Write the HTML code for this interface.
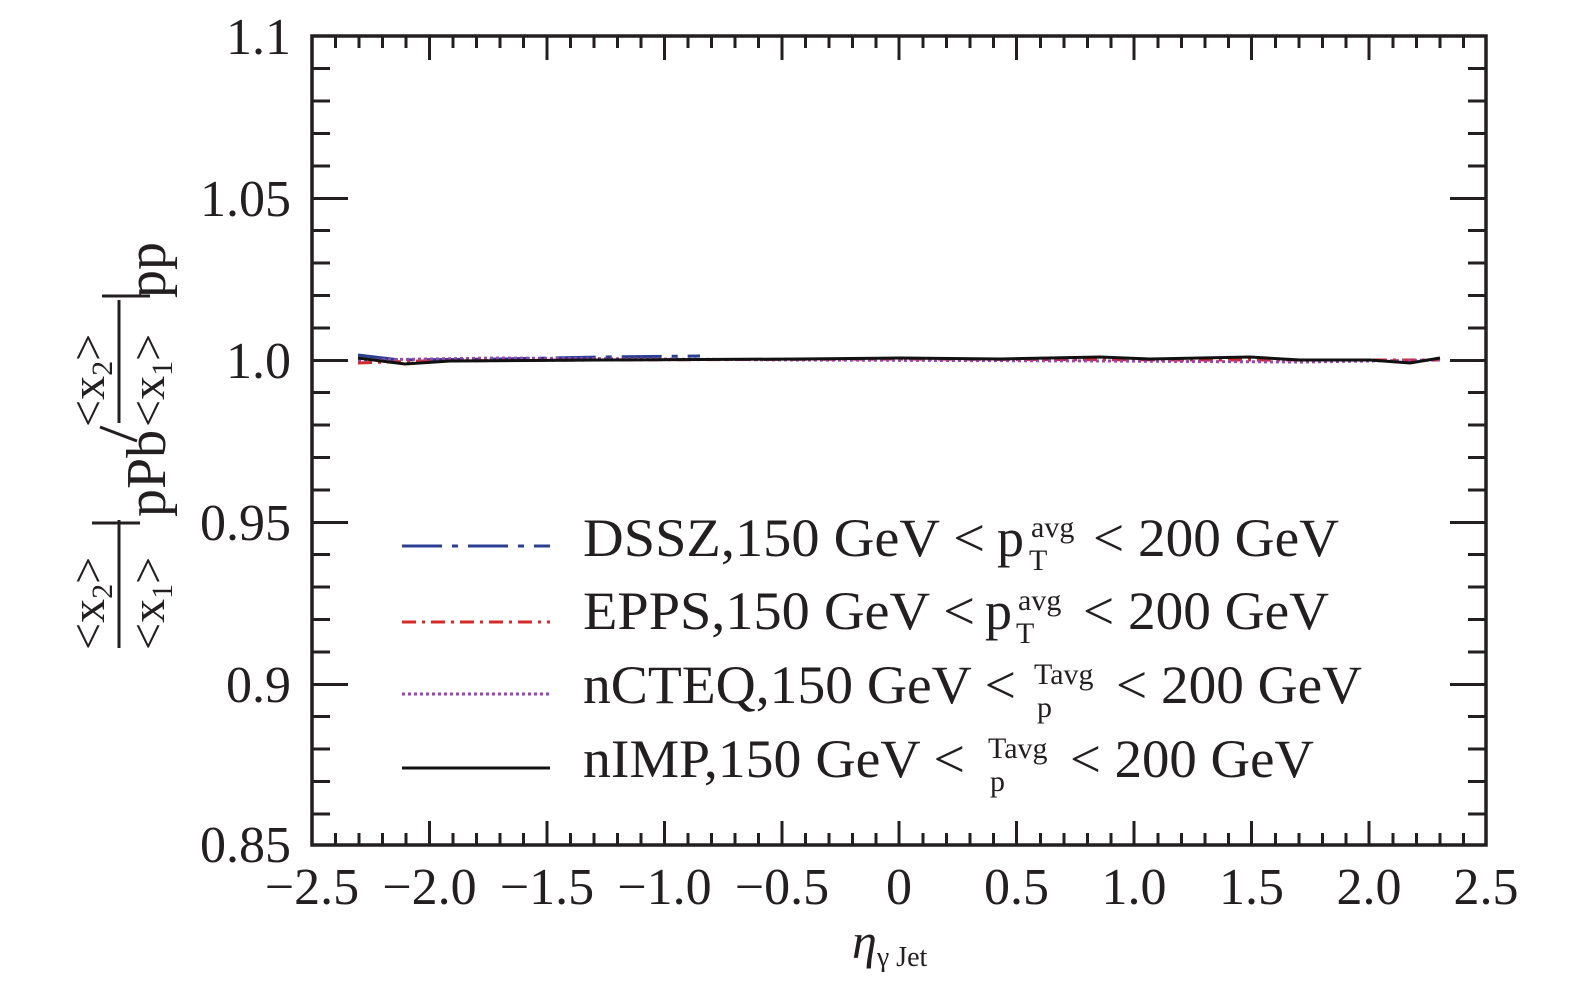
<!DOCTYPE html>
<html><head><meta charset="utf-8"><style>
html,body{margin:0;padding:0;background:#fff;}
svg{display:block;font-family:"Liberation Serif",serif;}
</style></head><body>
<svg width="1575" height="988" viewBox="0 0 1575 988" xmlns="http://www.w3.org/2000/svg">
<rect x="312" y="36" width="1174" height="809" fill="none" stroke="#231f20" stroke-width="3.5"/>
<g stroke="#231f20" stroke-width="3">
<path d="
M335.5 36v12M359 36v12M382.5 36v12M406 36v12M453 36v12M476.5 36v12M500 36v12M523.5 36v12M570.5 36v12M594 36v12M617.5 36v12M641 36v12M688 36v12M711.5 36v12M735 36v12M758.5 36v12M805.5 36v12M829 36v12M852.5 36v12M876 36v12M923 36v12M946.5 36v12M970 36v12M993.5 36v12M1040.5 36v12M1064 36v12M1087.5 36v12M1111 36v12M1158 36v12M1181.5 36v12M1205 36v12M1228.5 36v12M1275.5 36v12M1299 36v12M1322.5 36v12M1346 36v12M1393 36v12M1416.5 36v12M1440 36v12M1463.5 36v12
M429.5 36v24M547 36v24M664.5 36v24M782 36v24M899 36v24M1016.5 36v24M1134 36v24M1251.5 36v24M1369 36v24
M335.5 845v-12M359 845v-12M382.5 845v-12M406 845v-12M453 845v-12M476.5 845v-12M500 845v-12M523.5 845v-12M570.5 845v-12M594 845v-12M617.5 845v-12M641 845v-12M688 845v-12M711.5 845v-12M735 845v-12M758.5 845v-12M805.5 845v-12M829 845v-12M852.5 845v-12M876 845v-12M923 845v-12M946.5 845v-12M970 845v-12M993.5 845v-12M1040.5 845v-12M1064 845v-12M1087.5 845v-12M1111 845v-12M1158 845v-12M1181.5 845v-12M1205 845v-12M1228.5 845v-12M1275.5 845v-12M1299 845v-12M1322.5 845v-12M1346 845v-12M1393 845v-12M1416.5 845v-12M1440 845v-12M1463.5 845v-12
M429.5 845v-24M547 845v-24M664.5 845v-24M782 845v-24M899 845v-24M1016.5 845v-24M1134 845v-24M1251.5 845v-24M1369 845v-24
M312 68.5h18M312 101h18M312 133.5h18M312 166h18M312 230.5h18M312 263h18M312 295.5h18M312 328h18M312 392.5h18M312 425h18M312 457.5h18M312 490h18M312 554.5h18M312 587h18M312 619.5h18M312 652h18M312 716.5h18M312 749h18M312 781.5h18M312 814h18
M312 198.5h36M312 360.5h36M312 522.5h36M312 684.5h36
M1486 68.5h-18M1486 101h-18M1486 133.5h-18M1486 166h-18M1486 230.5h-18M1486 263h-18M1486 295.5h-18M1486 328h-18M1486 392.5h-18M1486 425h-18M1486 457.5h-18M1486 490h-18M1486 554.5h-18M1486 587h-18M1486 619.5h-18M1486 652h-18M1486 716.5h-18M1486 749h-18M1486 781.5h-18M1486 814h-18
M1486 198.5h-36M1486 360.5h-36M1486 522.5h-36M1486 684.5h-36"/>
</g>
<g font-size="52" fill="#231f20" text-anchor="end">
<text x="291" y="54">1.1</text>
<text x="291" y="216">1.05</text>
<text x="291" y="378">1.0</text>
<text x="291" y="540">0.95</text>
<text x="291" y="702">0.9</text>
<text x="291" y="862">0.85</text>
</g>
<g font-size="52" fill="#231f20" text-anchor="middle">
<text x="312" y="904">−2.5</text>
<text x="429.5" y="904">−2.0</text>
<text x="547" y="904">−1.5</text>
<text x="664.5" y="904">−1.0</text>
<text x="782" y="904">−0.5</text>
<text x="899" y="904">0</text>
<text x="1016.5" y="904">0.5</text>
<text x="1134" y="904">1.0</text>
<text x="1251.5" y="904">1.5</text>
<text x="1369" y="904">2.0</text>
<text x="1486" y="904">2.5</text>
</g>
<text x="852" y="958" font-size="50" font-style="italic" fill="#231f20">η<tspan font-size="28" font-style="normal" dy="8">γ Jet</tspan></text>
<g transform="rotate(-90)" fill="#231f20" font-size="48">
<text x="-650" y="104">&lt;x<tspan font-size="30" dy="8">2</tspan><tspan dy="-8">&gt;</tspan></text>
<text x="-650" y="164">&lt;x<tspan font-size="30" dy="8">1</tspan><tspan dy="-8">&gt;</tspan></text>
<text x="-517" y="165" font-size="56">pPb</text>
<text x="-427" y="104">&lt;x<tspan font-size="30" dy="8">2</tspan><tspan dy="-8">&gt;</tspan></text>
<text x="-427" y="164">&lt;x<tspan font-size="30" dy="8">1</tspan><tspan dy="-8">&gt;</tspan></text>
<text x="-298" y="165" font-size="56">pp</text>
</g>
<g stroke="#231f20" stroke-width="3">
<line x1="119" y1="648" x2="119" y2="520"/>
<line x1="119" y1="423" x2="119" y2="300"/>
<line x1="92" y1="523" x2="140" y2="523"/>
<line x1="102" y1="296" x2="150" y2="296"/>
<line x1="100" y1="427" x2="137" y2="441"/>
</g>
<g fill="none" stroke-width="3">
<path d="M358 355 L400 360 L500 359 L600 357 L700 356" stroke="#2b3f93" stroke-dasharray="40,10,6,10"/>
<path d="M358 363 L420 361 L600 360 L900 359 L1200 360 L1440 360" stroke="#d42a2a" stroke-dasharray="14,6,3,6"/>
<path d="M358 360 L500 358 L800 360 L1100 361 L1300 362 L1440 360" stroke="#9b45b0" stroke-dasharray="3,3"/>
<path d="M358 358 L405 364 L450 361 L600 360 L800 359 L900 358 L1000 359 L1100 357 L1150 359 L1250 357 L1300 360 L1370 360 L1410 363 L1440 358" stroke="#111"/>
</g>
<g fill="none" stroke-width="3">
<line x1="402" y1="546" x2="550" y2="546" stroke="#2b3f93" stroke-dasharray="40,10,6,10"/>
<line x1="402" y1="622" x2="550" y2="622" stroke="#d42a2a" stroke-dasharray="14,6,3,6"/>
<line x1="402" y1="694" x2="550" y2="694" stroke="#9b45b0" stroke-dasharray="3,3"/>
<line x1="402" y1="768" x2="550" y2="768" stroke="#111"/>
</g>
<g font-size="54" fill="#231f20">
<text x="583" y="556" textLength="402" lengthAdjust="spacingAndGlyphs">DSSZ,150 GeV &lt;</text>
<text x="997" y="556">p</text>
<text x="1031" y="537" font-size="30">avg</text>
<text x="1029" y="570" font-size="30">T</text>
<text x="1093" y="556" textLength="246" lengthAdjust="spacingAndGlyphs">&lt; 200 GeV</text>

<text x="583" y="629" textLength="392" lengthAdjust="spacingAndGlyphs">EPPS,150 GeV &lt;</text>
<text x="985" y="629">p</text>
<text x="1018" y="610" font-size="30">avg</text>
<text x="1016" y="643" font-size="30">T</text>
<text x="1083" y="629" textLength="246" lengthAdjust="spacingAndGlyphs">&lt; 200 GeV</text>

<text x="583" y="703" textLength="433" lengthAdjust="spacingAndGlyphs">nCTEQ,150 GeV &lt;</text>
<text x="1034" y="684" font-size="30">Tavg</text>
<text x="1037" y="717" font-size="30">p</text>
<text x="1116" y="703" textLength="246" lengthAdjust="spacingAndGlyphs">&lt; 200 GeV</text>

<text x="583" y="777" textLength="382" lengthAdjust="spacingAndGlyphs">nIMP,150 GeV &lt;</text>
<text x="988" y="758" font-size="30">Tavg</text>
<text x="990" y="791" font-size="30">p</text>
<text x="1070" y="777" textLength="244" lengthAdjust="spacingAndGlyphs">&lt; 200 GeV</text>
</g>
</svg>
</body></html>
